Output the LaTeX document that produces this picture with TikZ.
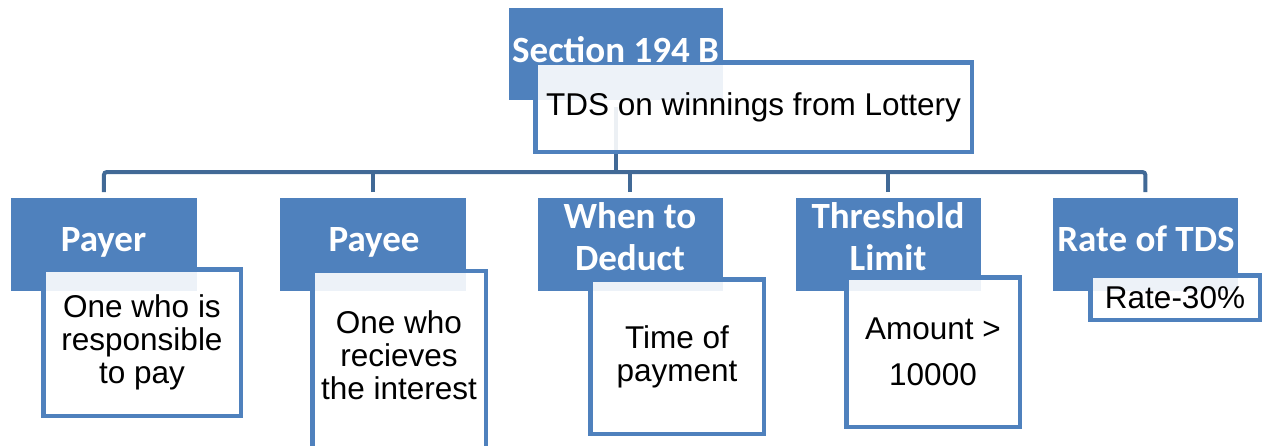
\documentclass[tikz,border=0pt]{standalone}
\usepackage{fontspec}
\newfontfamily\headfont{Carlito}
\newfontfamily\bodyfont{Liberation Sans}
\usetikzlibrary{calc}
\definecolor{boxblue}{RGB}{79,129,189}
\definecolor{linkblue}{RGB}{65,105,150}

\tikzset{
  hdrbox/.style={fill=boxblue, draw=white, line width=0.8pt, inner sep=0pt,
    anchor=north west, minimum height=94pt},
  hdrtext/.style={text=white, font=\headfont\bfseries\fontsize{37}{41.5}\selectfont,
    align=center, inner sep=0pt},
  infobox/.style={draw=boxblue, line width=4.5pt, fill=white, fill opacity=0.9,
    text opacity=1, align=center, inner sep=0pt, text=black,
    font=\bodyfont\fontsize{31.5}{33}\selectfont},
  conn/.style={draw=linkblue, line width=4pt, rounded corners=3pt}
}

\begin{document}
\begin{tikzpicture}[x=1pt, y=-1pt]
  \useasboundingbox (0,0) rectangle (1268,445);
  \clip (0,0) rectangle (1268,445);

  % coloured header boxes
  \node[hdrbox, minimum width=215pt, minimum height=93pt] (sec) at (508,7) {};
  \node[hdrbox, minimum width=187pt] (payer) at (10,197) {};
  \node[hdrbox, minimum width=187pt] (payee) at (279,197) {};
  \node[hdrbox, minimum width=186pt] (when) at (537,197) {};
  \node[hdrbox, minimum width=186pt] (thr) at (795,197) {};
  \node[hdrbox, minimum width=186pt] (rate) at (1052,197) {};

  % connectors
  \coordinate (bus) at (0,172);
  \draw[conn, shorten <=6pt] (sec.south) -- (sec.south |- bus);
  \draw[conn, shorten <=5pt, shorten >=5pt]
    (payer.north) -- (payer.north |- bus) -- (rate.north |- bus) -- (rate.north);
  \draw[conn, shorten <=5pt] (payee.north) -- (payee.north |- bus);
  \draw[conn, shorten <=5pt] (when.north) -- (when.north |- bus);
  \draw[conn, shorten <=5pt] (thr.north) -- (thr.north |- bus);

  % detail boxes
  \node[infobox, minimum width=436.5pt, minimum height=89.5pt] (tds) at (753.5,107)
    {TDS on winnings from Lottery};
  \node[infobox, minimum width=197.5pt, minimum height=146.5pt] (payerD) at (142,342.5)
    {One who is\\responsible\\to pay};
  \node[infobox, minimum width=173.5pt, minimum height=177.75pt] (payeeD) at (399,360)
    {\raisebox{3pt}{\begin{tabular}{@{}c@{}}One who\\recieves\\the interest\end{tabular}}};
  \node[infobox, minimum width=173.5pt, minimum height=154.5pt] (whenD) at (677,356.5)
    {Time of\\payment};
  \node[infobox, minimum width=173.5pt, minimum height=149.5pt,
    font=\bodyfont\fontsize{31.5}{46}\selectfont] (thrD) at (933,352)
    {Amount >\\10000};
  \node[infobox, minimum width=169.5pt, minimum height=44.5pt] (rateD) at (1175,297.5)
    {Rate-30\%};

  % header labels, set over the boxes
  \node[hdrtext] (secT) at (615.5,49.5) {Section 194 B};
  \node[hdrtext] (payerT) at (103.5,242.3) {Payer};
  \node[hdrtext] (payeeT) at (374,242.5) {Payee};
  \node[hdrtext] (whenT) at (630,236.5) {When to\\Deduct};
  \node[hdrtext] (thrT) at (888,236.5) {Threshold\\Limit};
  \node[hdrtext] (rateT) at (1146,238.5) {Rate of TDS};
\end{tikzpicture}
\end{document}
